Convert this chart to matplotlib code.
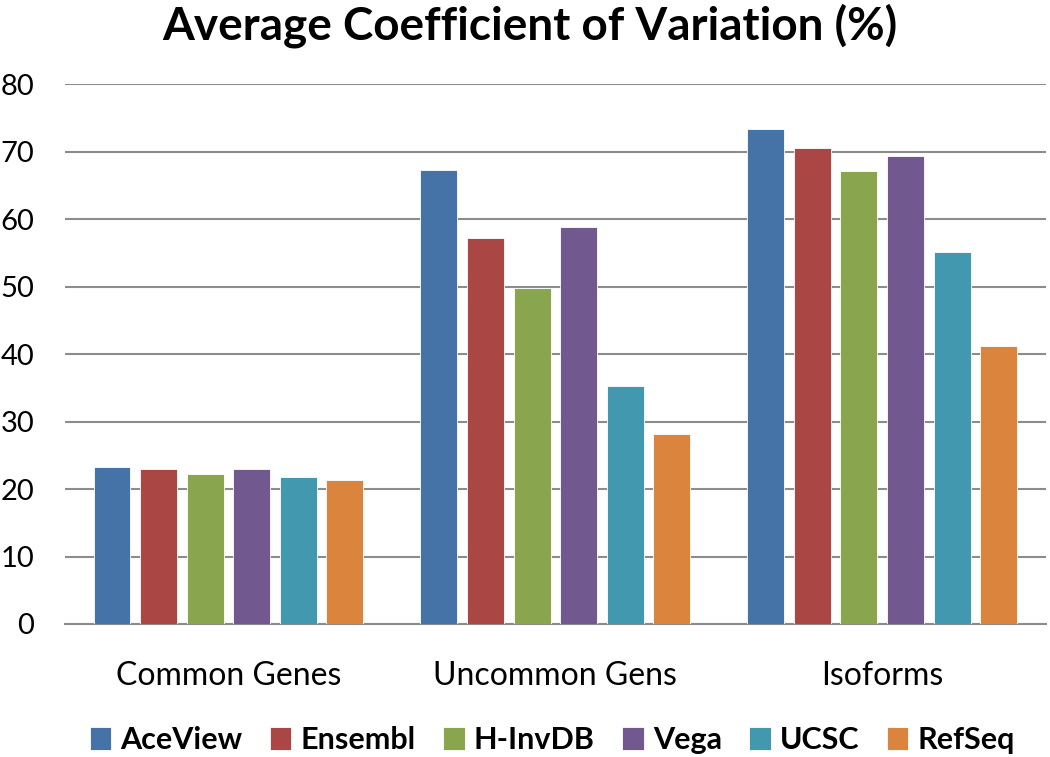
import matplotlib.pyplot as plt
import numpy as np

categories = ["Common Genes", "Uncommon Gens", "Isoforms"]
series = ["AceView", "Ensembl", "H-InvDB", "Vega", "UCSC", "RefSeq"]
aceview = [23.2, 67.3, 73.4]
ensembl = [23.0, 57.2, 70.6]
hinvdb = [22.3, 49.8, 67.1]
vega = [23.0, 58.8, 69.4]
ucsc = [21.8, 35.3, 55.1]
refseq = [21.4, 28.1, 41.2]
values = [aceview, ensembl, hinvdb, vega, ucsc, refseq]
colors = ["#4572A7", "#AA4643", "#89A54E", "#71588F", "#4198AF", "#DB843D"]

plt.rcParams['font.family'] = ['Lato', 'DejaVu Sans']

fig = plt.figure(figsize=(10.5, 7.57), dpi=100)
ax = fig.add_axes([0.0619, 0.1757, 0.934, 0.713])

x = np.arange(len(categories))
pitch = 0.1425
width = 0.113
for i, (name, vals, c) in enumerate(zip(series, values, colors)):
    ax.bar(x + (i - 2.5) * pitch, vals, width, color=c, label=name,
           edgecolor="white", linewidth=0.6, zorder=3)

ax.set_xlim(-0.5, 2.5)
ax.set_ylim(0, 80)
ax.set_yticks(range(0, 81, 10))
ax.yaxis.grid(True, color="#8c8c8c", linewidth=1.5, zorder=0)
ax.set_xticks(x)
ax.set_xticklabels(categories, fontsize=23)
ax.tick_params(axis="x", length=0, pad=27)
ax.tick_params(axis="y", length=0, pad=22, labelsize=21)
for s in ["top", "right", "left"]:
    ax.spines[s].set_visible(False)
ax.spines["bottom"].set_color("#8c8c8c")
ax.spines["bottom"].set_linewidth(1.5)

fig.suptitle("Average Coefficient of Variation (%)", fontsize=33,
             fontweight="bold", x=0.505, y=0.995, va="top")

fig.legend(loc="center", bbox_to_anchor=(0.526, 0.022), ncol=6, frameon=False,
           prop={"weight": "bold", "size": 22}, handlelength=0.7,
           handleheight=0.8, handletextpad=0.3, columnspacing=0.9)

fig.savefig("out.png", dpi=100)
